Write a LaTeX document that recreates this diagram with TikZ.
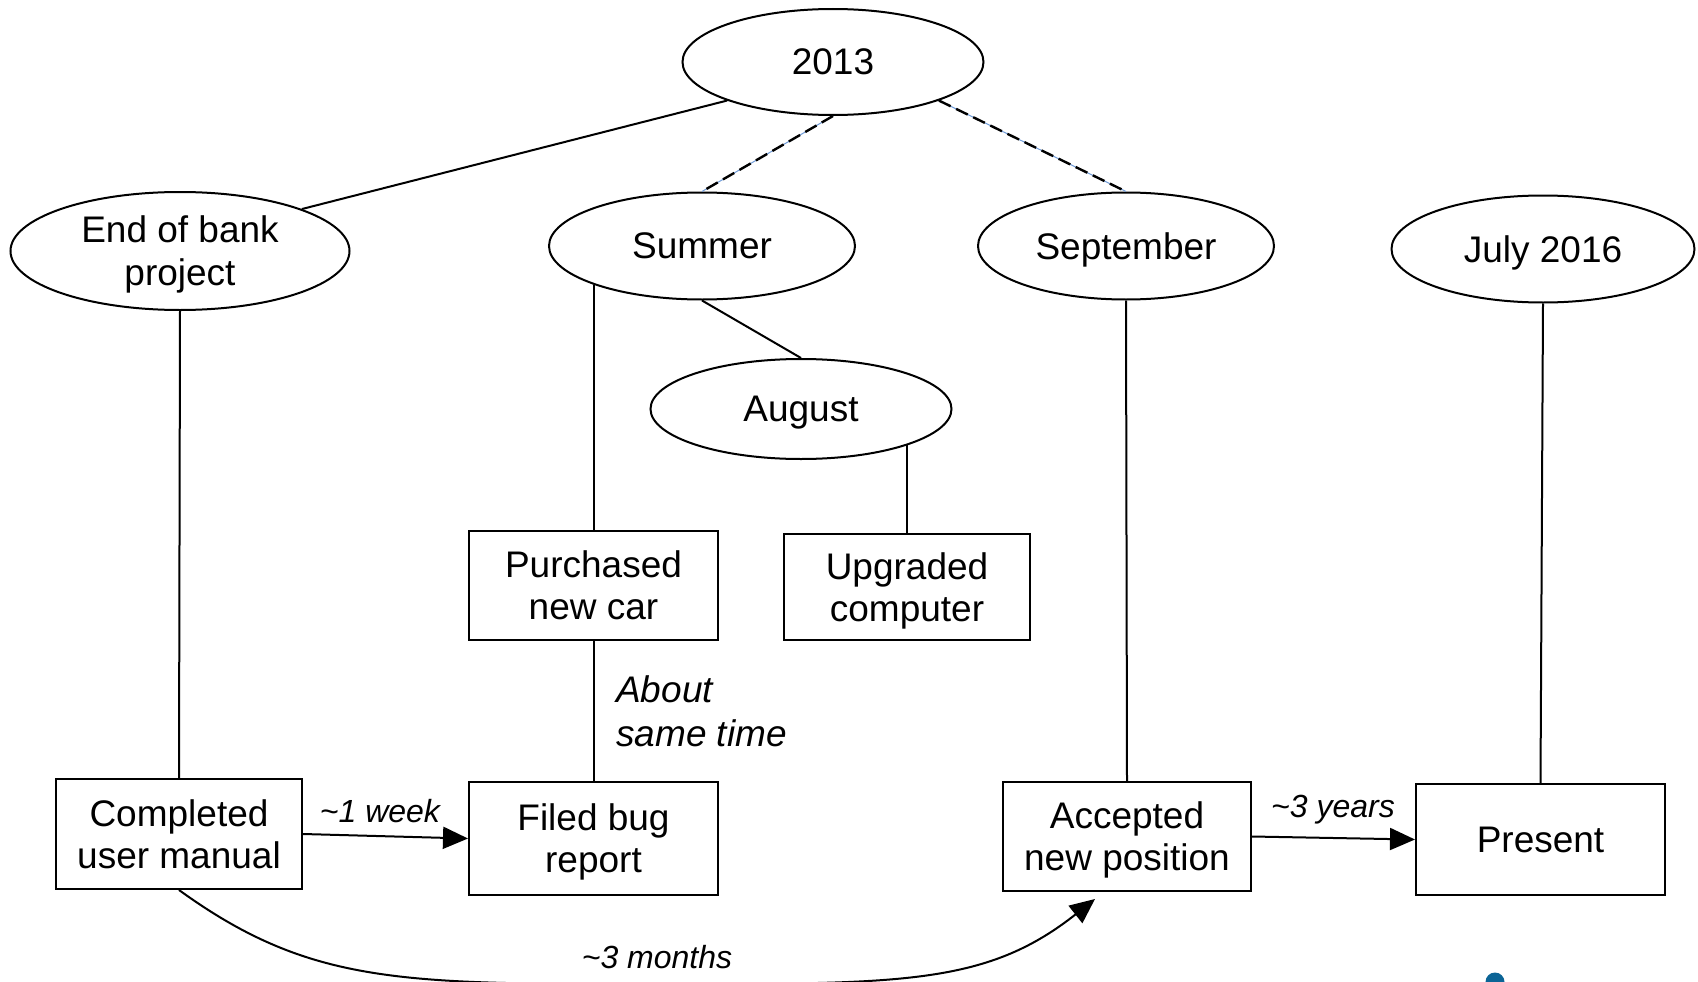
\documentclass[tikz,border=0pt]{standalone}
\usepackage{fontspec}
\setmainfont{Liberation Sans}
\usetikzlibrary{shapes.geometric,arrows.meta,calc}
\definecolor{dashblue}{HTML}{6F9BD8}
\definecolor{dotblue}{HTML}{0B6496}
\tikzset{
  oval/.style={ellipse, draw, line width=2pt, inner sep=0pt, align=center,
    text depth=0pt, font=\fontsize{37}{43}\selectfont},
  event/.style={rectangle, draw, line width=2pt, inner sep=0pt, align=center,
    text depth=0pt, font=\fontsize{37}{42}\selectfont},
  link/.style={line width=2pt},
  guide/.style={line width=2.4pt, dash pattern=on 13pt off 6pt,
    preaction={draw=dashblue, line width=1pt, solid}},
  gap/.style={line width=2pt, -{Triangle[length=25pt,width=22pt]}},
  note/.style={inner sep=0pt, text depth=0pt, font=\fontsize{32}{38}\selectfont\itshape},
}
\begin{document}
\begin{tikzpicture}[x=1pt,y=-1pt]
\clip (0,0) rectangle (1698,982);
\fill[white] (0,0) rectangle (1698,982);

% periods
\node[oval, minimum width=301, minimum height=106] (y2013)  at (833,62)   {2013};
\node[oval, minimum width=339, minimum height=118] (bank)   at (180,251)  {End of bank\\project};
\node[oval, minimum width=306, minimum height=107] (summer) at (702,246)  {Summer};
\node[oval, minimum width=296, minimum height=107] (sept)   at (1126,246) {September};
\node[oval, minimum width=303, minimum height=107] (july)   at (1543,249) {July 2016};
\node[oval, minimum width=301, minimum height=100] (august) at (801,409)  {August};

% events
\node[event, minimum width=249, minimum height=109] (car)     at (593.5,585.5) {Purchased\\new car};
\node[event, minimum width=246, minimum height=106] (comp)    at (907,587)     {Upgraded\\computer};
\node[event, minimum width=246, minimum height=110] (manual)  at (179,834)     {Completed\\user manual};
\node[event, minimum width=249, minimum height=113] (bug)     at (593.5,838.5) {Filed bug\\report};
\node[event, minimum width=248, minimum height=109] (acc)     at (1127,836.5)  {Accepted\\new position};
\node[event, minimum width=249, minimum height=111] (present) at (1540.5,839.5) {Present};

% hierarchy
\draw[link]  (y2013.200) -- (bank.19);
\draw[guide] (y2013.south) -- (summer.north);
\draw[guide] (y2013.340) -- (sept.north);
\draw[link]  (car.north) -- (car.north |- summer.200);
\draw[link]  (summer.south) -- (august.north);
\draw[link]  (comp.north) -- (comp.north |- august.341);
\draw[link]  (bank.south) -- (manual.north);
\draw[link]  (car.south) -- (bug.north);
\draw[link]  (sept.south) -- (acc.north);
\draw[link]  (july.south) -- (present.north);

% time gaps
\draw[gap] (manual.east) -- (bug.west);
\node[note] (week) at (380,811) {\textasciitilde1 week};
\draw[gap] (acc.east) -- (present.west);
\node[note] (years) at (1333,806) {\textasciitilde3 years};
\coordinate (low) at (650,984);
\coordinate (tip) at ($(acc.south)+(-32,7)$);
\draw[gap] (manual.south) .. controls +(130,94) and (400,984) .. (low)
  .. controls (900,984) and (985,986) .. (tip);
\node[note] (months) at (657,957) {\textasciitilde3 months};
\node[note, font=\fontsize{37}{44}\selectfont\itshape, align=left, anchor=west]
  (same) at (616,711) {About\\same time};

\fill[dotblue] (1495,982) circle[radius=9.5];
\end{tikzpicture}
\end{document}
